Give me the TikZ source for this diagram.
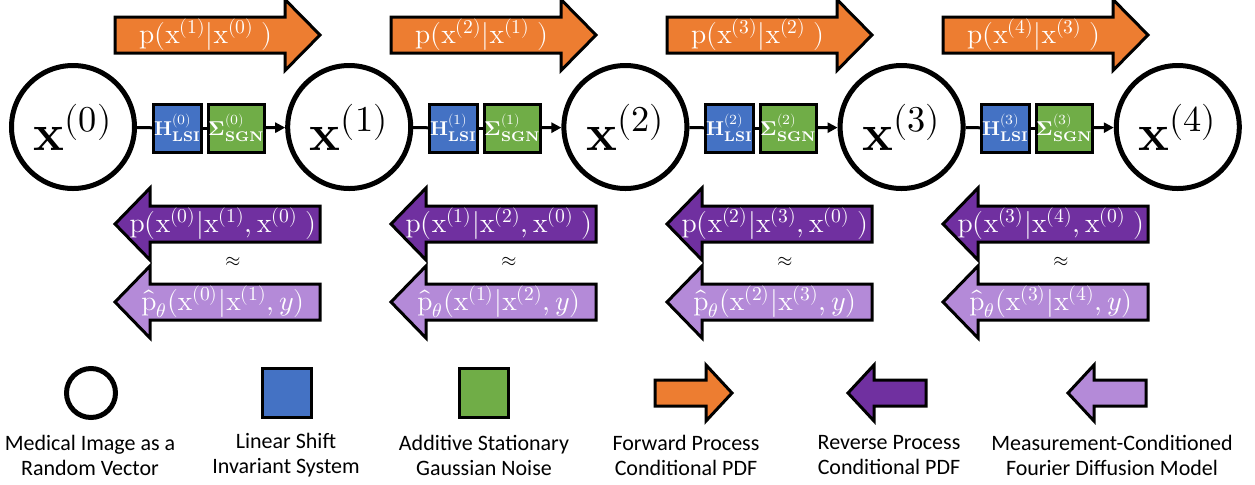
\documentclass[tikz,border=0pt]{standalone}
\usepackage{amsmath}
\usepackage{fontspec}
\usepackage{unicode-math}
\setmainfont{Carlito}
\setmathfont{Latin Modern Math}
\setmathrm{Latin Modern Roman}
\usetikzlibrary{arrows.meta}

\definecolor{fwdorange}{HTML}{ED7D31}
\definecolor{lsiblue}{HTML}{4472C4}
\definecolor{sgngreen}{HTML}{70AD47}
\definecolor{revpurple}{HTML}{7030A0}
\definecolor{fdmpurple}{HTML}{B48AD8}

\tikzset{
  rv/.style={circle, draw, line width=2.5pt, minimum size=61.5pt, inner sep=0pt,
    font=\fontsize{26}{30}\selectfont},
  lsi/.style={rectangle, draw, fill=lsiblue, line width=1.5pt, minimum size=24pt,
    inner sep=0pt, text=white, font=\fontsize{10}{11}\selectfont},
  sgn/.style={lsi, fill=sgngreen},
  link/.style={line width=1.5pt},
  blockarr/.style={draw, line width=1.5pt, line join=miter},
  pdf/.style={text=white, inner sep=0pt, font=\fontsize{14}{16}\selectfont},
  legend/.style={align=center, font=\fontsize{11}{12.5}\selectfont}
}

% block arrows: colour, left x, right x, y, half shaft, half head, head length
\newcommand{\rightarr}[7]{\draw[blockarr, fill=#1] (#2,#4-#5) -- (#3-#7,#4-#5) -- (#3-#7,#4-#6)
  -- (#3,#4) -- (#3-#7,#4+#6) -- (#3-#7,#4+#5) -- (#2,#4+#5) -- cycle;}
\newcommand{\leftarr}[7]{\draw[blockarr, fill=#1] (#3,#4-#5) -- (#2+#7,#4-#5) -- (#2+#7,#4-#6)
  -- (#2,#4) -- (#2+#7,#4+#6) -- (#2+#7,#4+#5) -- (#3,#4+#5) -- cycle;}

\begin{document}
\begin{tikzpicture}[x=0.5pt, y=-0.5pt]
\useasboundingbox (0,0) rectangle (1255,484);

% random vectors
\foreach \i in {0,...,4}
  \node[rv] (x\i) at (73+276.2*\i,127) {$\mathbf{x}^{(\i)}$};

% one stage per step
\foreach \k/\n in {0/1,1/2,2/3,3/4} {
  \node[lsi] (h\k) at (177.5+276*\k,128) {$\mathbf{H}^{(\k)}_{\mathbf{LSI}}$};
  \node[sgn] (s\k) at (236.5+276*\k,128) {$\symbf{\Sigma}^{(\k)}_{\mathbf{SGN}}$};
  \draw[link] (x\k) -- (h\k);
  \draw[link] (h\k) -- (s\k);
  \draw[link, -{Triangle[length=5pt, width=5pt]}] (s\k) -- (x\n);
  % forward / reverse / model arrows
  \rightarr{fwdorange}{115+276*\k}{320+276*\k}{35}{18}{35.5}{35}
  \leftarr{revpurple}{115+276*\k}{320+276*\k}{224}{18}{36}{35}
  \leftarr{fdmpurple}{115+276*\k}{320+276*\k}{302}{18}{36}{35}
  \node[pdf] (f\k) at (206+276*\k,35) {$\mathrm{p}(\mathrm{x}^{(\n)}|\mathrm{x}^{(\k)}\;)$};
  \node[pdf] (r\k) at (223+276*\k,224) {$\mathrm{p}(\mathrm{x}^{(\k)}|\mathrm{x}^{(\n)},\mathrm{x}^{(0)}\;)$};
  \node[pdf] (m\k) at (223+276*\k,302) {$\hat{\mathrm{p}}_{\theta}(\mathrm{x}^{(\k)}|\mathrm{x}^{(\n)},y)$};
  \node (ap\k) at (233+276*\k,262) {$\approx$};
}

% legend
\node[circle, draw, line width=2.5pt, minimum size=24.5pt, inner sep=0pt] (legrv) at (91,393) {};
\node[draw, fill=lsiblue, line width=1.5pt, minimum size=24.5pt] (leglsi) at (287,393) {};
\node[draw, fill=sgngreen, line width=1.5pt, minimum size=24.5pt] (legsgn) at (484,393) {};
\rightarr{fwdorange}{655}{732}{393}{13}{28}{26}
\leftarr{revpurple}{848}{926}{393}{13}{28}{26}
\leftarr{fdmpurple}{1068}{1146}{393}{13}{28}{26}
\node[legend] (t1) at (90,455.5) {Medical Image as a\\Random Vector};
\node[legend] (t2) at (286,455.5) {Linear Shift\\Invariant System};
\node[legend] (t3) at (484,455.5) {Additive Stationary\\Gaussian Noise};
\node[legend] (t4) at (686,455.5) {Forward Process\\Conditional PDF};
\node[legend] (t5) at (889,455.5) {Reverse Process\\Conditional PDF};
\node[legend] (t6) at (1112,455.5) {Measurement-Conditioned\\Fourier Diffusion Model};
\end{tikzpicture}
\end{document}
